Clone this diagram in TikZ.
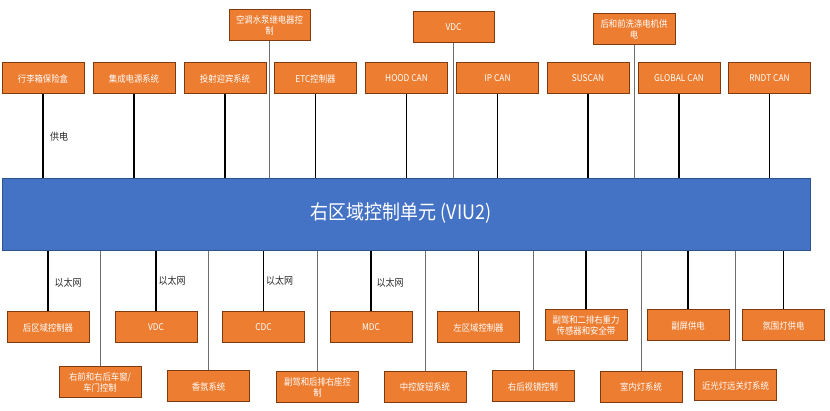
\documentclass[tikz,border=0pt]{standalone}
\usepackage{fontspec}
\setmainfont{Noto Sans CJK SC}[FakeStretch=0.9]
\definecolor{boxfill}{HTML}{ED7D31}
\definecolor{boxline}{HTML}{7F3A10}
\definecolor{barfill}{HTML}{4472C4}
\definecolor{barline}{HTML}{2F528F}
\definecolor{lgray}{HTML}{6E6E6E}
\begin{document}
\begin{tikzpicture}[x=1pt,y=-1pt,
  box/.style={draw=boxline, line width=1pt, fill=boxfill, text=white,
    minimum width=82pt, minimum height=31pt, inner sep=1pt,
    font=\fontsize{9.3}{11}\selectfont, align=center},
  conn/.style={draw=black, line width=1.4pt},
  longconn/.style={draw=lgray, line width=0.9pt},
  lbl/.style={font=\fontsize{10}{11}\selectfont, text=black!85}]
\useasboundingbox (0,0) rectangle (830,411);
% bar
\node[draw=barline, line width=1pt, fill=barfill, minimum width=808pt, minimum height=72pt,
  inner sep=0pt, anchor=north west] (bar) at (2,178) {};
\node[text=white, font=\fontsize{20}{22}\selectfont] (title) at (401,213) {右区域控制单元 (VIU2)};
% top row
\node[box] (t1) at (43,78.5) {行李箱保险盒};
\node[box] (t2) at (134,78.5) {集成电源系统};
\node[box] (t3) at (225,78.5) {投射迎宾系统};
\node[box] (t4) at (315.5,78.5) {ETC控制器};
\node[box] (t5) at (406.5,78.5) {HOOD CAN};
\node[box] (t6) at (497.5,78.5) {IP CAN};
\node[box] (t7) at (588,78.5) {SUSCAN};
\node[box] (t8) at (679,78.5) {GLOBAL CAN};
\node[box] (t9) at (769.5,78.5) {RNDT CAN};
% upper row
\node[box, minimum width=81pt] (u1) at (269.5,25.5) {空调水泵继电器控\\制};
\node[box, minimum width=81pt] (u2) at (453.5,27.5) {VDC};
\node[box] (u3) at (634,29.5) {后和前洗涤电机供\\电};
% bottom row 1
\node[box] (b1) at (48,327.5) {后区域控制器};
\node[box] (b2) at (156,327.5) {VDC};
\node[box] (b3) at (263.5,327.5) {CDC};
\node[box] (b4) at (371,327.5) {MDC};
\node[box] (b5) at (478.5,327.5) {左区域控制器};
\node[box] (b6) at (586,325.5) {副驾和二排右重力\\传感器和安全带};
\node[box] (b7) at (688,325.5) {副屏供电};
\node[box] (b8) at (783.5,325.5) {氛围灯供电};
% bottom row 2
\node[box] (c1) at (100,382.5) {右前和右后车窗/\\车门控制};
\node[box] (c2) at (208.5,386.5) {香氛系统};
\node[box] (c3) at (317.5,387) {副驾和后排右座控\\制};
\node[box] (c4) at (425,387) {中控旋钮系统};
\node[box] (c5) at (533,386.5) {右后视镜控制};
\node[box] (c6) at (641,387) {室内灯系统};
\node[box] (c7) at (735.5,385.5) {近光灯远关灯系统};
% connectors
\foreach \n in {t1,t2,t3,t4,t5,t6,t7,t8,t9}
  \draw[conn] (\n.south) -- (\n.south |- bar.north);
\foreach \n in {u1,u2,u3}
  \draw[longconn] (\n.south) -- (\n.south |- bar.north);
\foreach \n in {b1,b2,b3,b4,b5,b6,b7,b8}
  \draw[conn] (\n.north) -- (\n.north |- bar.south);
\foreach \n in {c1,c2,c3,c4,c5,c6,c7}
  \draw[longconn] (\n.north) -- (\n.north |- bar.south);
% labels
\node[lbl] (l0) at (59,137) {供电};
\node[lbl] (l1) at (68,283) {以太网};
\node[lbl] (l2) at (172,281) {以太网};
\node[lbl] (l3) at (279.5,281) {以太网};
\node[lbl] (l4) at (390,283) {以太网};
\end{tikzpicture}
\end{document}
